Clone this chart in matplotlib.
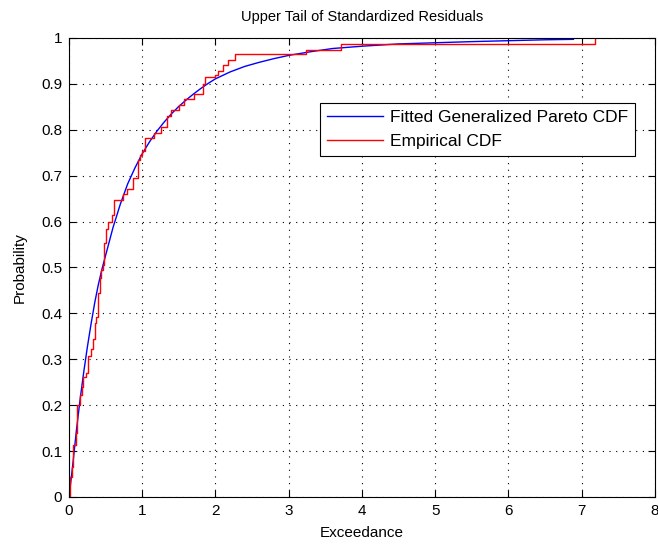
import matplotlib
matplotlib.use('Agg')
from matplotlib import pyplot as plt

# empirical CDF: jump positions and levels after each jump
ecdf_x = [0.01, 0.045, 0.06, 0.09, 0.11, 0.15, 0.17, 0.19, 0.23, 0.264, 0.297, 0.32,
          0.356, 0.374, 0.40, 0.42, 0.44, 0.46, 0.48, 0.50, 0.534, 0.59, 0.607, 0.74,
          0.79, 0.867, 0.936, 0.97, 1.0, 1.04, 1.16, 1.256, 1.34, 1.39, 1.50, 1.57,
          1.70, 1.83, 1.86, 2.0, 2.04, 2.10, 2.17, 2.26, 3.23, 3.72, 7.18]
ecdf_y = [0.044, 0.066, 0.113, 0.14, 0.20, 0.222, 0.24, 0.262, 0.271, 0.307, 0.322, 0.344,
          0.378, 0.393, 0.444, 0.476, 0.494, 0.505, 0.553, 0.583, 0.60, 0.614, 0.648, 0.661,
          0.67, 0.694, 0.734, 0.745, 0.754, 0.781, 0.792, 0.807, 0.83, 0.843, 0.854, 0.868,
          0.878, 0.899, 0.916, 0.92, 0.929, 0.941, 0.952, 0.964, 0.974, 0.986, 1.0]

# fitted generalized Pareto CDF
fit_x = [0.0, 0.05, 0.1, 0.15, 0.2, 0.25, 0.3, 0.35, 0.4, 0.45, 0.5, 0.6, 0.7, 0.8,
         0.9, 1.0, 1.1, 1.2, 1.3, 1.4, 1.5, 1.6, 1.7, 1.8, 1.9, 2.0, 2.2, 2.4, 2.6,
         2.8, 3.0, 3.3, 3.6, 4.0, 4.5, 5.0, 5.5, 6.0, 6.5, 6.89]
fit_y = [0.0, 0.07, 0.145, 0.212, 0.272, 0.327, 0.377, 0.423, 0.463, 0.497, 0.527,
         0.587, 0.638, 0.682, 0.717, 0.748, 0.774, 0.797, 0.817, 0.835, 0.851, 0.865,
         0.878, 0.890, 0.901, 0.911, 0.926, 0.938, 0.947, 0.955, 0.962, 0.970, 0.977,
         0.982, 0.987, 0.9895, 0.992, 0.994, 0.996, 0.997]

x_ticks = [0, 1, 2, 3, 4, 5, 6, 7, 8]
y_ticks = [0, 0.1, 0.2, 0.3, 0.4, 0.5, 0.6, 0.7, 0.8, 0.9, 1]

plt.rcParams['font.family'] = ['Liberation Sans', 'DejaVu Sans']

fig = plt.figure(figsize=(6.58, 5.5), dpi=100)
ax = fig.add_axes([0.105, 0.0964, 0.89, 0.8346])

ax.plot(fit_x, fit_y, color='#0000ff', lw=1.0, label='Fitted Generalized Pareto CDF')
ax.step([ecdf_x[0]] + ecdf_x, [0] + ecdf_y, where='post', color='#ff0000', lw=1.0,
        label='Empirical CDF')

ax.set_xlim(0, 8)
ax.set_ylim(0, 1)
ax.set_xticks(x_ticks)
ax.set_yticks(y_ticks)
ax.set_yticklabels([('%g' % t) for t in y_ticks])
ax.tick_params(direction='in', labelsize=11, length=5, pad=5, top=True, right=True)
ax.grid(True, color='black', linestyle=(0, (1, 5)), linewidth=0.8)
for s in ax.spines.values():
    s.set_linewidth(0.8)

ax.set_title('Upper Tail of Standardized Residuals', fontsize=10.5, pad=12)
ax.set_xlabel('Exceedance', fontsize=11, labelpad=6)
ax.set_ylabel('Probability', fontsize=11, labelpad=10)

leg = ax.legend(loc='upper right', bbox_to_anchor=(0.966, 0.858), fontsize=12.5,
                fancybox=False, framealpha=1, edgecolor='black', borderaxespad=0,
                handlelength=3.2, borderpad=0.4, labelspacing=0.5, handletextpad=0.4)
leg.get_frame().set_linewidth(0.8)

fig.savefig('out.png', dpi=100, facecolor='white')
